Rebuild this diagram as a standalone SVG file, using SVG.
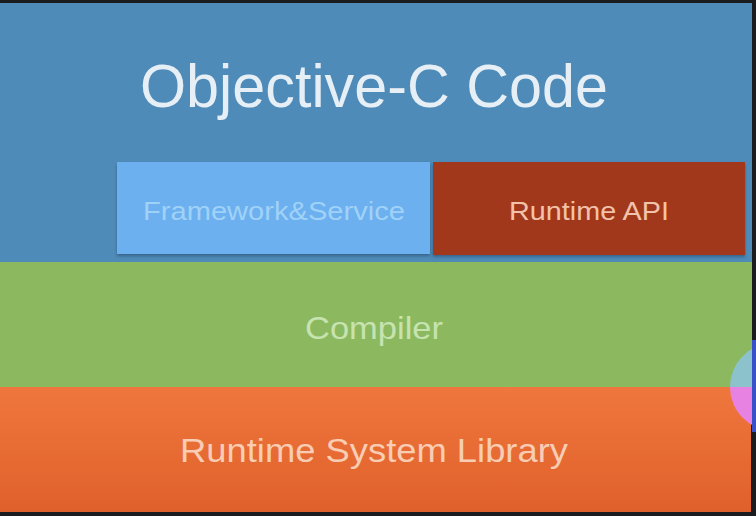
<svg xmlns="http://www.w3.org/2000/svg" width="756" height="516" viewBox="0 0 756 516">
<defs>
<style>
text{font-family:"Liberation Sans","Helvetica Neue",Arial,sans-serif;text-anchor:middle}
</style>
<linearGradient id="og" x1="0" y1="0" x2="0" y2="1">
<stop offset="0" stop-color="#ef773d"/>
<stop offset="1" stop-color="#e0602b"/>
</linearGradient>
<filter id="sh" x="-5%" y="-5%" width="110%" height="115%">
<feDropShadow dx="0" dy="2" stdDeviation="1.5" flood-color="#1c3550" flood-opacity="0.45"/>
</filter>
</defs>
<rect x="0" y="0" width="756" height="516" fill="#1a1c20"/>
<g id="objc-code">
<rect x="0" y="3" width="752" height="260" fill="#4f8bb9"/>
<text x="374" y="107" font-size="61" fill="#e6eff6" textLength="468" lengthAdjust="spacingAndGlyphs">Objective-C Code</text>
</g>
<g id="compiler">
<rect x="0" y="262" width="752" height="126" fill="#8cb960"/>
<text x="374" y="339" font-size="32" fill="#c6e3b0" textLength="138" lengthAdjust="spacingAndGlyphs">Compiler</text>
</g>
<g id="runtime-system-library">
<rect x="0" y="387" width="751" height="125" fill="url(#og)"/>
<text x="374" y="462" font-size="33" fill="#f8cdb4" textLength="388" lengthAdjust="spacingAndGlyphs">Runtime System Library</text>
</g>
<g id="framework-service">
<rect x="117" y="162" width="313" height="92" fill="#6cb0ef" filter="url(#sh)"/>
<text x="274" y="220" font-size="25" fill="#a0d2f8" textLength="262" lengthAdjust="spacingAndGlyphs">Framework&amp;Service</text>
</g>
<g id="runtime-api">
<rect x="433" y="162" width="312" height="93" fill="#a1371b" filter="url(#sh)"/>
<text x="589" y="220" font-size="25" fill="#f2c2aa" textLength="160" lengthAdjust="spacingAndGlyphs">Runtime API</text>
</g>
<g id="connectors"></g>
<g id="overlay">
<path d="M730,387 A44,44 0 0 1 774,343 L774,387 Z" fill="#8cc2cc"/>
<path d="M730,387 A44,44 0 0 0 774,431 L774,387 Z" fill="#e882e2"/>
<rect x="752" y="340" width="4" height="92" fill="#3850c8"/>
</g>
</svg>
